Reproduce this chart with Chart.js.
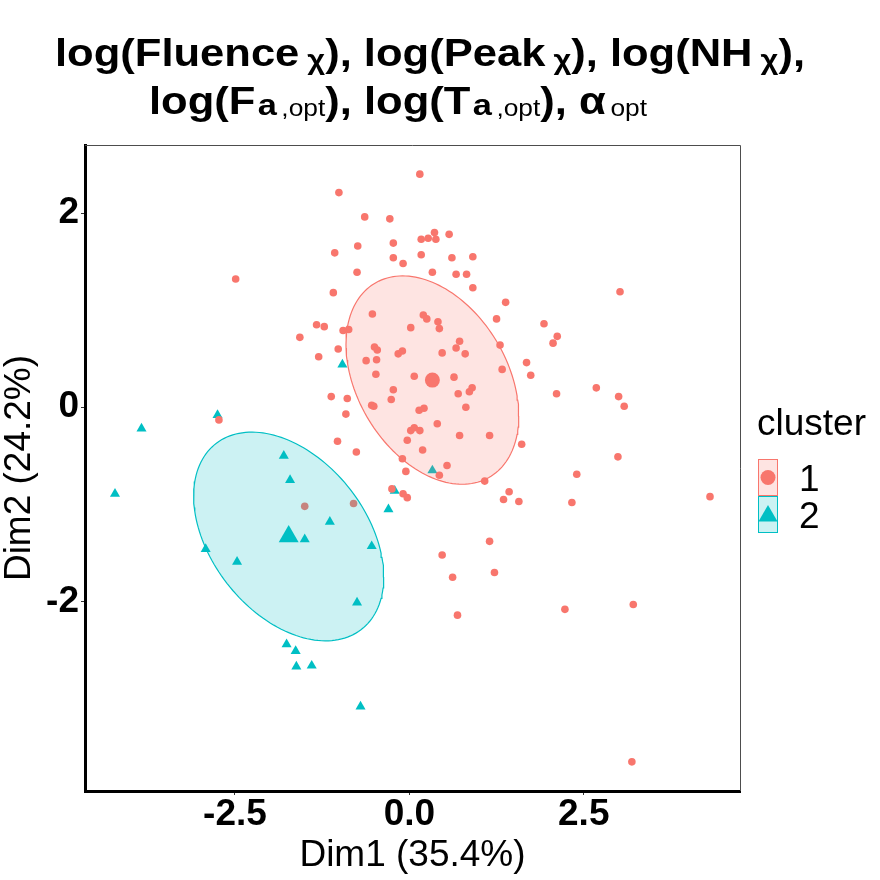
<!DOCTYPE html>
<html>
<head>
<meta charset="utf-8">
<script src="https://cdn.jsdelivr.net/npm/chart.js@4.4.1/dist/chart.umd.min.js"></script>
<style>
  html, body { margin: 0; padding: 0; background: #fff; }
  #wrap { width: 880px; height: 880px; }
</style>
</head>
<body>
<div id="wrap"><canvas id="pcaChart" width="880" height="880"></canvas></div>
<script>
// cluster 1 individuals (Dim1, Dim2)
const c1x = [0.15, -1.01, -0.64, -0.28, 0.36, 0.57, 0.17, 0.27, 0.38, -0.23,
  -0.74, -1.07, -0.23, 0.17, 0.61, 0.91, -0.09, -0.75, 0.33, 0.67,
  0.82, 0.91, -1.09, 1.38, -0.53, 0.20, 0.25, 0.41, 0.43, 1.25,
  1.93, -1.33, -1.22, -0.95, -0.87, 0.02, 2.12, -1.57, -2.49, 3.02,
  2.06, 0.72, 0.67, 1.30, -1.02, -0.50, -0.46, -0.16, -0.10, 0.47,
  0.80, -1.30, -0.62, -0.47, 1.68, 1.33, 1.74, -0.48, 0.07, 0.64,
  -0.23, 0.90, 0.86, 0.70, 2.11, -1.12, -0.89, -0.26, -0.54, -0.51,
  0.14, 0.21, 0.81, -0.91, 0.40, 0.02, 0.07, 0.15, 0.72, 1.15,
  -1.03, -0.03, 1.61, -0.76, 0.19, -0.10, 0.54, -0.05, 0.43, 1.08,
  2.40, -0.25, -0.09, -0.03, 1.43, 1.35, 1.57, 2.33, 1.15, 0.47,
  0.62, 1.22, 0.69, 2.23, 3.21, 2.68, 3.00, 3.08, 2.99, 4.31,
  3.19, -2.73, -1.50, -0.80];
const c1y = [2.40, 2.21, 1.96, 1.94, 1.80, 1.78, 1.73, 1.74, 1.73, 1.69,
  1.66, 1.59, 1.54, 1.57, 1.54, 1.55, 1.48, 1.39, 1.39, 1.37,
  1.37, 1.23, 1.18, 1.08, 0.96, 0.95, 0.91, 0.88, 0.81, 0.91,
  0.86, 0.85, 0.83, 0.79, 0.80, 0.82, 0.73, 0.72, 1.32, 1.19,
  0.66, 0.68, 0.61, 0.64, 0.60, 0.62, 0.59, 0.55, 0.58, 0.56,
  0.55, 0.52, 0.48, 0.49, 0.46, 0.39, 0.33, 0.34, 0.32, 0.31,
  0.18, 0.20, 0.16, 0.14, 0.14, 0.11, 0.09, 0.08, 0.02, 0.01,
  -0.03, -0.01, 0.00, -0.07, -0.17, -0.24, -0.21, -0.24, -0.29, -0.29,
  -0.35, -0.34, -0.38, -0.46, -0.44, -0.53, -0.60, -0.66, -0.70, -0.76,
  -0.69, -0.84, -0.89, -0.93, -0.87, -0.95, -0.97, -0.98, -1.38, -1.52,
  -1.75, -1.70, -2.14, -2.08, -2.03, 0.20, 0.11, 0.01, -0.51, -0.92,
  -3.65, -0.13, -1.02, -0.99];

// cluster 2 individuals
const c2x = [-4.22, -3.84, -2.75, -0.96, 0.33, -1.80, -1.71, -0.21, -1.14, -1.50,
  -2.92, -2.47, -0.54, -0.30, -0.75, -1.76, -1.63, -1.62, -1.40, -0.70];
const c2y = [-0.89, -0.22, -0.08, 0.44, -0.65, -0.50, -0.75, -0.86, -1.18, -1.36,
  -1.46, -1.59, -1.43, -1.05, -2.01, -2.44, -2.51, -2.67, -2.66, -3.08];

// cluster centres
const centerX = [0.33, -1.73];
const centerY = [0.28, -1.33];

// normal ellipse per cluster: variance Dim1, variance Dim2, covariance
const ellVarX = [1.534, 1.857];
const ellVarY = [1.150, 1.154];
const ellCov = [-0.457, -0.568];

const clusterNames = ["1", "2"];
const xTicks = [-2.5, 0, 2.5];
const xTickLabels = ["-2.5", "0.0", "2.5"];
const yTicks = [-2, 0, 2];
const yTickLabels = ["-2", "0", "2"];
const xLimits = [-4.65, 4.74];
const yLimits = [-3.95, 2.70];

const FONT = '"Liberation Sans", Arial, Helvetica, sans-serif';
const colors = ["#F8766D", "#00BFC4"];
const fills = ["rgba(248,118,109,0.2)", "rgba(0,191,196,0.2)"];
const shapes = ["circle", "triangle"];

function zip(xs, ys) {
    return xs.map((x, i) => ({ x: x, y: ys[i] }));
}

function ellipsePoints(k) {
    const a = Math.sqrt(ellVarX[k]);
    const b = ellCov[k] / a;
    const c = Math.sqrt(ellVarY[k] - b * b);
    const pts = [];
    for (let i = 0; i <= 160; i++) {
        const t = i / 160 * 2 * Math.PI;
        pts.push({
            x: centerX[k] + a * Math.cos(t),
            y: centerY[k] + b * Math.cos(t) + c * Math.sin(t)
        });
    }
    return pts;
}

// title pieces: m = main, x = chi subscript, a = bold subscript, o = small subscript
const titleLines = [
    [["log(Fluence", "m"], ["χ", "x"], ["), log(Peak", "m"], ["χ", "x"], ["), log(NH", "m"], ["χ", "x"], ["),", "m"]],
    [["log(F", "m"], ["a", "a"], [",opt", "o"], ["), log(T", "m"], ["a", "a"], [",opt", "o"], ["), α", "m"], ["opt", "o"]]
];
const pieceStyle = {
    m: { font: "bold 38px " + FONT, dy: 0, gap: 0 },
    x: { font: "bold 27px " + FONT, dy: 3, gap: 7 },
    a: { font: "bold 30px " + FONT, dy: 1, gap: 2 },
    o: { font: "23px " + FONT, dy: 2, gap: 4 }
};

const titlePlugin = {
    id: "plotTitle",
    afterDraw(chart) {
        const ctx = chart.ctx;
        ctx.save();
        ctx.fillStyle = "#000";
        ctx.textBaseline = "alphabetic";
        const widths = titleLines.map(line => line.reduce((w, p) => {
            ctx.font = pieceStyle[p[1]].font;
            return w + pieceStyle[p[1]].gap + ctx.measureText(p[0]).width;
        }, 0));
        const sx = 750 / widths[0];
        const centers = [430, 398];
        const baselines = [66, 114];
        titleLines.forEach((line, li) => {
            ctx.save();
            ctx.translate(centers[li] - widths[li] * sx / 2, baselines[li]);
            ctx.scale(sx, 1);
            let x = 0;
            line.forEach(p => {
                const st = pieceStyle[p[1]];
                ctx.font = st.font;
                x += st.gap;
                ctx.fillText(p[0], x, st.dy);
                x += ctx.measureText(p[0]).width;
            });
            ctx.restore();
        });
        ctx.restore();
    }
};

const framePlugin = {
    id: "frame",
    afterDraw(chart) {
        const { ctx, chartArea: a } = chart;
        ctx.save();
        ctx.strokeStyle = "#4d4d4d";
        ctx.lineWidth = 1;
        ctx.beginPath();
        ctx.moveTo(a.left, a.top + 0.5);
        ctx.lineTo(a.right + 0.5, a.top + 0.5);
        ctx.lineTo(a.right + 0.5, a.bottom);
        ctx.stroke();
        ctx.restore();
    }
};

const legendPlugin = {
    id: "clusterLegend",
    afterDraw(chart) {
        const ctx = chart.ctx;
        ctx.save();
        ctx.fillStyle = "#000";
        ctx.font = "37px " + FONT;
        ctx.textBaseline = "alphabetic";
        ctx.fillText("cluster", 757, 435);
        clusterNames.forEach((name, k) => {
            const top = 459 + k * 37;
            ctx.fillStyle = fills[k];
            ctx.fillRect(758, top, 20, 37);
            ctx.strokeStyle = colors[k];
            ctx.lineWidth = 1;
            ctx.strokeRect(758.5, top + 0.5, 19, 36);
            ctx.fillStyle = colors[k];
            Chart.helpers.drawPoint(ctx, {
                pointStyle: shapes[k],
                radius: k === 0 ? 7.5 : 11,
                rotation: 0,
                borderWidth: 0
            }, 768, k === 0 ? 477.5 : 516);
            ctx.fillStyle = "#000";
            ctx.font = "37px " + FONT;
            ctx.fillText(name, 799, top + 32);
        });
        ctx.restore();
    }
};

document.addEventListener("DOMContentLoaded", function () {
    const ctx = document.getElementById("pcaChart").getContext("2d");

    const pointSets = clusterNames.map((name, k) => ({
        type: "scatter",
        label: name,
        data: k === 0 ? zip(c1x, c1y) : zip(c2x, c2y),
        showLine: false,
        pointStyle: shapes[k],
        pointRadius: k === 0 ? 3.8 : 5.8,
        pointBackgroundColor: colors[k],
        pointBorderWidth: 0,
        order: 3
    }));
    const ellipseSets = clusterNames.map((name, k) => ({
        type: "line",
        data: ellipsePoints(k),
        showLine: true,
        fill: "shape",
        tension: 0,
        backgroundColor: fills[k],
        borderColor: colors[k],
        borderWidth: 1.2,
        pointRadius: 0,
        order: 2
    }));
    const centerSets = clusterNames.map((name, k) => ({
        type: "scatter",
        data: [{ x: centerX[k], y: centerY[k] }],
        showLine: false,
        pointStyle: shapes[k],
        pointRadius: k === 0 ? 7.5 : 11.5,
        pointBackgroundColor: colors[k],
        pointBorderWidth: 0,
        order: 1
    }));

    new Chart(ctx, {
        type: "scatter",
        data: { datasets: pointSets.concat(ellipseSets, centerSets) },
        options: {
            responsive: false,
            animation: false,
            devicePixelRatio: 1,
            events: [],
            layout: { padding: { top: 145, right: 140, bottom: 0, left: 0 } },
            plugins: { legend: { display: false }, tooltip: { enabled: false } },
            scales: {
                x: {
                    type: "linear",
                    min: xLimits[0],
                    max: xLimits[1],
                    afterBuildTicks: s => { s.ticks = xTicks.map(v => ({ value: v })); },
                    afterFit: s => { s.height = 89; },
                    grid: { display: true, drawOnChartArea: false, drawTicks: true, tickLength: 4, color: "#333", lineWidth: 1 },
                    border: { display: true, color: "#000", width: 3 },
                    ticks: {
                        color: "#000",
                        padding: 1,
                        maxRotation: 0,
                        autoSkip: false,
                        font: { family: FONT, size: 37, weight: "bold", lineHeight: 1 },
                        callback: v => xTickLabels[xTicks.indexOf(v)]
                    },
                    title: {
                        display: true,
                        text: "Dim1 (35.4%)",
                        color: "#000",
                        font: { family: FONT, size: 37, lineHeight: 1 },
                        padding: { top: 0, bottom: 6 }
                    }
                },
                y: {
                    type: "linear",
                    min: yLimits[0],
                    max: yLimits[1],
                    afterBuildTicks: s => { s.ticks = yTicks.map(v => ({ value: v })); },
                    afterFit: s => { s.width = 85; },
                    grid: { display: true, drawOnChartArea: false, drawTicks: true, tickLength: 4, color: "#333", lineWidth: 1 },
                    border: { display: true, color: "#000", width: 3 },
                    ticks: {
                        color: "#000",
                        padding: 2,
                        autoSkip: false,
                        font: { family: FONT, size: 37, weight: "bold", lineHeight: 1 },
                        callback: v => yTickLabels[yTicks.indexOf(v)]
                    },
                    title: {
                        display: true,
                        text: "Dim2 (24.2%)",
                        color: "#000",
                        font: { family: FONT, size: 37, lineHeight: 1 },
                        padding: { top: 1, bottom: 0 }
                    }
                }
            }
        },
        plugins: [titlePlugin, framePlugin, legendPlugin]
    });
});
</script>
</body>
</html>
